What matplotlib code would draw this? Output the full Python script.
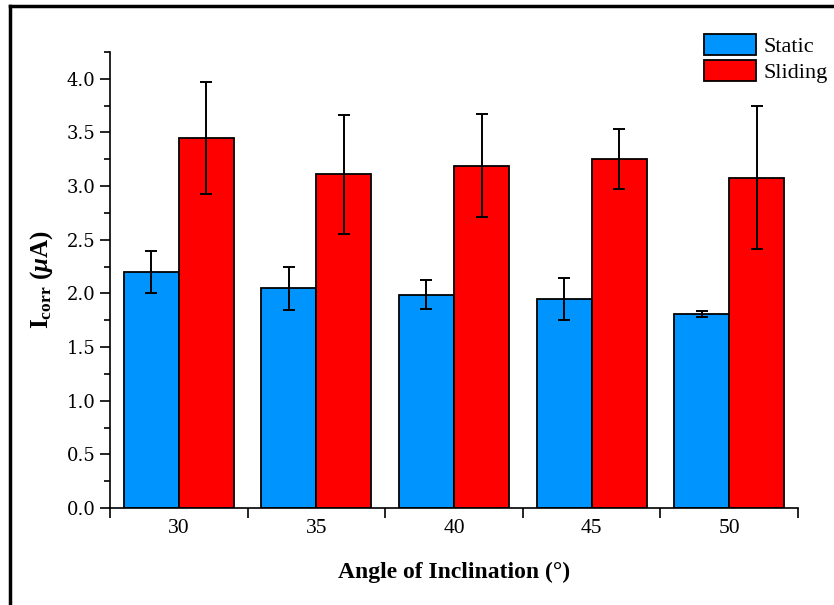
import numpy as np
import matplotlib
matplotlib.use("Agg")
import matplotlib.pyplot as plt
from matplotlib.lines import Line2D

angles = ["30", "35", "40", "45", "50"]
static = [2.20, 2.05, 1.99, 1.95, 1.81]
static_err = [0.20, 0.20, 0.135, 0.195, 0.03]
sliding = [3.45, 3.11, 3.19, 3.25, 3.08]
sliding_err = [0.52, 0.555, 0.48, 0.28, 0.67]

plt.rcParams['font.family'] = ['Liberation Serif', 'DejaVu Serif']
plt.rcParams['mathtext.fontset'] = 'custom'
plt.rcParams['mathtext.rm'] = 'Liberation Serif:bold'
plt.rcParams['mathtext.it'] = 'Liberation Serif:italic:bold'
plt.rcParams['mathtext.bf'] = 'Liberation Serif:bold'

fig = plt.figure(figsize=(8.34, 6.05), dpi=100)
ax = fig.add_axes([0.1319, 0.1603, 0.8249, 0.7537])

x = np.arange(len(angles))
w = 0.4
ekw = dict(ecolor='black', elinewidth=1.4, capthick=1.4, capsize=4.5)
ax.bar(x - w/2, static, w, yerr=static_err, color='#0094ff', edgecolor='black',
       linewidth=1.3, label='Static', error_kw=ekw)
ax.bar(x + w/2, sliding, w, yerr=sliding_err, color='#ff0000', edgecolor='black',
       linewidth=1.3, label='Sliding', error_kw=ekw)

ax.set_xlim(-0.5, 4.5)
ax.set_ylim(0, 4.25)
ax.spines['top'].set_visible(False)
ax.spines['right'].set_visible(False)
for s in ['left', 'bottom']:
    ax.spines[s].set_linewidth(1.2)

# group boundaries carry the tick marks, labels sit at group centres
ax.set_xticks(np.arange(-0.5, 5, 1.0))
ax.set_xticklabels([''] * 6)
ax.set_xticks(x, minor=True)
ax.set_xticklabels(angles, minor=True, fontsize=15.5)
ax.tick_params(axis='x', which='major', direction='out', length=7, width=1.2)
ax.tick_params(axis='x', which='minor', length=0, pad=8)

ax.set_yticks(np.arange(0, 4.01, 0.5))
ax.set_yticklabels(['%.1f' % v for v in np.arange(0, 4.01, 0.5)],
                   fontsize=13, family='DejaVu Serif')
ax.set_yticks(np.arange(0.25, 4.3, 0.5), minor=True)
ax.tick_params(axis='y', which='major', direction='out', length=7, width=1.2)
ax.tick_params(axis='y', which='minor', direction='out', length=4, width=1.2)

ax.set_xlabel('Angle of Inclination (°)', fontsize=17, fontweight='bold', labelpad=17)
ax.set_ylabel(r'$\mathrm{I_{corr}\ (}\mathit{μ}\mathrm{A)}$', fontsize=18, labelpad=8)

ax.legend(loc='upper right', bbox_to_anchor=(0.992, 0.944),
          bbox_transform=fig.transFigure, frameon=False, borderaxespad=0,
          borderpad=0, fontsize=16, handlelength=2.35, handleheight=1.1,
          handletextpad=0.3, labelspacing=0.12)

# outer frame (left and top edges visible in the reference)
fig.add_artist(Line2D([0.012, 0.012], [0.0, 0.99], transform=fig.transFigure,
                      color='black', lw=2.5))
fig.add_artist(Line2D([0.012, 1.0], [0.99, 0.99], transform=fig.transFigure,
                      color='black', lw=2.5))

fig.savefig('out.png', dpi=100)
